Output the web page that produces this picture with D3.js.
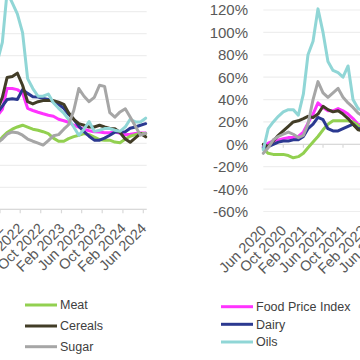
<!DOCTYPE html>
<html><head><meta charset="utf-8">
<script src="https://cdn.jsdelivr.net/npm/d3@7"></script>
<style>
html,body{margin:0;padding:0;background:#fff}
svg{display:block;font-family:"Liberation Sans",Arial,sans-serif}
</style>
</head><body>
<svg id="chart" width="360" height="360"></svg>
<script>
// ---------- DATA ----------
const seriesNames = ["Food Price Index", "Meat", "Dairy", "Cereals", "Oils", "Sugar"];
const seriesColors = ["#ff33ff", "#92d050", "#2b3990", "#423d27", "#90d6d6", "#a6a6a6"];

// Left panel (monthly, Jan 2022 – Jun 2024)
const leftMonths = ["2022-01","2022-02","2022-03","2022-04","2022-05","2022-06","2022-07","2022-08","2022-09","2022-10","2022-11","2022-12",
  "2023-01","2023-02","2023-03","2023-04","2023-05","2023-06","2023-07","2023-08","2023-09","2023-10","2023-11","2023-12",
  "2024-01","2024-02","2024-03","2024-04","2024-05","2024-06"];
const leftFPI     = [25,31,50,50,49,46,32,30,28.4,27,25.7,24.8,22,20.7,19.3,16.6,14.8,13,11.6,10.7,10.5,9.8,9.8,10.5,9.3,8,8.4,9,9.6,9.6];
const leftMeat    = [0.3,5.7,10,13,15,16.6,14.8,13,12,10.7,9,4.8,2,2,4.4,6.2,7.5,9,8,5.7,3.4,3,3,1.2,0.7,4,6.6,8,9,9];
const leftDairy   = [27.5,34,40,40.7,40,49,45.6,42.5,42.3,41,40,38,35.7,32,26.6,22,15.7,10.7,6.6,3,3,4.8,7.5,10.3,10.5,10.7,13.9,15,16.6,18];
const leftCereals = [30,42,60,61,64,53,38,36,38,39,39,39,37.5,35.6,28,22,18,16.6,15,15,16.6,15,13.6,13.4,10,4,1,5,9,6];
const leftOils    = [74,92,138,128,118,101,59,50,43,43,45,37,32,27.5,22,15,7.5,13,20,11,12,13.5,13.5,12,11,15,22,19.6,19.6,23];
const leftSugar   = [0.3,4,8.4,10.5,9.8,7.5,4,2,0.3,-1.5,2.5,7,8,13,17,30,50,43,38,42,53,52,28,24,28.7,31.6,24,15.7,7.5,9.3];

// Right panel (monthly, Jun 2020 – Feb 2022, year-on-year %)
const rightMonths = ["2020-06","2020-07","2020-08","2020-09","2020-10","2020-11","2020-12",
  "2021-01","2021-02","2021-03","2021-04","2021-05","2021-06","2021-07","2021-08","2021-09","2021-10","2021-11","2021-12",
  "2022-01","2022-02"];
const rightFPI     = [-2,1,3,4,5,6,6,7,11,19,27,37,33,30,30,32,30,27,23,18,17];
const rightMeat    = [-4,-8,-9,-9,-9,-10,-12,-11,-8,-3,2,7,13,18,21,21,21,21,20,17,10];
const rightDairy   = [-3,-2,0,2,3,3,4,4,7,14,18,24,22,14,12,12,14,16,18,14,14];
const rightCereals = [0,-2,3,8,12,16,20,21,23,25,24,27,34,31,29,30,27,23,18,13,12];
const rightOils    = [-5,14,20,25,29,31,31,26,45,80,92,121,100,74,66,64,60,70,40,32,30];
const rightSugar   = [-8,-3,4,7,9,11,9,6,8,18,40,56,46,42,46,50,42,37,33,28,25];

const yTickValues = [-60,-40,-20,0,20,40,60,80,100,120];
const leftTickLabels  = ["Feb 2022","Jun 2022","Oct 2022","Feb 2023","Jun 2023","Oct 2023","Feb 2024","Jun 2024"];
const rightTickLabels = ["Jun 2020","Oct 2020","Feb 2021","Jun 2021","Oct 2021","Feb 2022","Jun 2022","Oct 2022"];

const legendLeft  = ["Meat", "Cereals", "Sugar"];
const legendRight = ["Food Price Index", "Dairy", "Oils"];

// ---------- DRAW ----------
const svg = d3.select("#chart");
const parseM = d3.timeParse("%Y-%m");
const parseT = d3.timeParse("%b %Y");
const colorOf = d3.scaleOrdinal().domain(seriesNames).range(seriesColors);
const pct = d => d + "%";
const gridColor = "#eeeeee", axisColor = "#d9d9d9", textColor = "#595959";

const leftSeries  = [leftFPI, leftMeat, leftDairy, leftCereals, leftOils, leftSugar];
const rightSeries = [rightFPI, rightMeat, rightDairy, rightCereals, rightOils, rightSugar];

// scales
const xL = d3.scaleTime().domain([parseT("Feb 2022"), parseT("Jun 2024")]).range([0, 143.3]);
const yL = d3.scaleLinear().domain([-60, 120]).range([209.3, 11.7]);
const xR = d3.scaleTime().domain([parseT("Jun 2020"), parseT("Oct 2021")]).range([263.3, 343]);
const yR = d3.scaleLinear().domain([-60, 120]).range([211.5, 10]);

const leftDates  = leftMonths.map(m => d3.timeDay.offset(parseM(m), 14));
const rightDates = rightMonths.map(parseM);

// ---- left panel ----
const gL = svg.append("g");
const lx0 = -5, lx1 = xL(leftDates[leftDates.length - 1]) + 1;
gL.selectAll(".grid").data(yTickValues).join("line")
  .attr("x1", lx0).attr("x2", lx1)
  .attr("y1", d => yL(d)).attr("y2", d => yL(d))
  .attr("stroke", gridColor).attr("stroke-width", 1.2);
gL.append("line").attr("x1", lx0).attr("x2", lx1)
  .attr("y1", yL(-60)).attr("y2", yL(-60)).attr("stroke", axisColor).attr("stroke-width", 1.2);
const lTicks = leftTickLabels.map(parseT);
gL.selectAll(".tick").data(lTicks).join("line")
  .attr("x1", d => xL(d)).attr("x2", d => xL(d))
  .attr("y1", yL(-60)).attr("y2", yL(-60) + 4)
  .attr("stroke", axisColor).attr("stroke-width", 1.2);
gL.selectAll(".xl").data(leftTickLabels).join("text")
  .attr("transform", d => `translate(${xL(parseT(d)) + 4},${yL(-60) + 20}) rotate(-45)`)
  .attr("text-anchor", "end").attr("font-size", 14.5).attr("fill", textColor)
  .text(d => d);

const lineL = d3.line().x((d, i) => xL(leftDates[i])).y(d => yL(d));
gL.selectAll(".series").data(leftSeries).join("path")
  .attr("d", d => lineL(d)).attr("fill", "none")
  .attr("stroke", (d, i) => colorOf(seriesNames[i]))
  .attr("stroke-width", 3).attr("stroke-linejoin", "round").attr("stroke-linecap", "round");

// ---- right panel ----
const gR = svg.append("g");
const rx0 = xR(rightDates[0]), rx1 = 362;
gR.selectAll(".grid").data(yTickValues).join("line")
  .attr("x1", rx0).attr("x2", rx1)
  .attr("y1", d => yR(d)).attr("y2", d => yR(d))
  .attr("stroke", gridColor).attr("stroke-width", 1.2);
gR.append("line").attr("x1", rx0).attr("x2", rx1)
  .attr("y1", yR(0)).attr("y2", yR(0)).attr("stroke", axisColor).attr("stroke-width", 1.2);
const rTicks = rightTickLabels.map(parseT);
gR.selectAll(".tick").data(rTicks).join("line")
  .attr("x1", d => xR(d)).attr("x2", d => xR(d))
  .attr("y1", yR(0)).attr("y2", yR(0) + 3.5)
  .attr("stroke", axisColor).attr("stroke-width", 1.2);
gR.selectAll(".yl").data(yTickValues).join("text")
  .attr("x", 248).attr("y", d => yR(d)).attr("dy", "0.36em")
  .attr("text-anchor", "end").attr("font-size", 15).attr("fill", textColor)
  .text(pct);
gR.selectAll(".xl").data(rightTickLabels).join("text")
  .attr("transform", d => `translate(${xR(parseT(d)) + 4},${yR(-60) + 20}) rotate(-45)`)
  .attr("text-anchor", "end").attr("font-size", 14.5).attr("fill", textColor)
  .text(d => d);

const lineR = d3.line().x((d, i) => xR(rightDates[i])).y(d => yR(d));
gR.selectAll(".series").data(rightSeries).join("path")
  .attr("d", d => lineR(d)).attr("fill", "none")
  .attr("stroke", (d, i) => colorOf(seriesNames[i]))
  .attr("stroke-width", 3).attr("stroke-linejoin", "round").attr("stroke-linecap", "round");

// ---- legends ----
function legend(names, x0, rowY) {
  const g = svg.append("g");
  const rows = g.selectAll("g").data(names).join("g")
    .attr("transform", (d, i) => `translate(${x0},${rowY[i]})`);
  rows.append("line").attr("x1", 0).attr("x2", 32).attr("y1", 0).attr("y2", 0)
    .attr("stroke", d => colorOf(d)).attr("stroke-width", 3);
  rows.append("text").attr("x", 35).attr("dy", "0.35em")
    .attr("font-size", 12.5).attr("fill", "#404040").text(d => d);
}
legend(legendLeft, 25, [305, 326, 346.7]);
legend(legendRight, 221, [306.7, 324.3, 342]);
</script>
</body></html>
